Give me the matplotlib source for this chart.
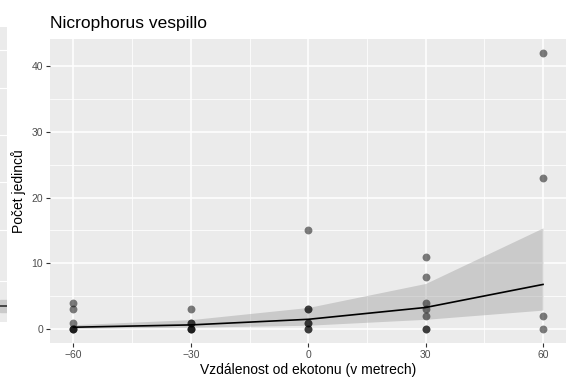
import matplotlib.pyplot as plt
import numpy as np

# counts of beetles per trap, by distance from the ecotone
distance = [-60, -60, -60, -60, -60, -60,
            -30, -30, -30, -30, -30, -30,
            0, 0, 0, 0, 0, 0, 0,
            30, 30, 30, 30, 30, 30, 30,
            60, 60, 60, 60]
count = [4, 3, 1, 0, 0, 0,
         3, 1, 1, 0, 0, 0,
         15, 3, 3, 1, 1, 0, 0,
         11, 8, 4, 3, 2, 0, 0,
         42, 23, 2, 0]

# fitted model with confidence band
fit_x = [-60, -30, 0, 30, 60]
fit_y = [0.3, 0.65, 1.5, 3.3, 6.8]
fit_lo = [0.13, 0.3, 0.6, 1.5, 2.9]
fit_hi = [0.68, 1.45, 3.3, 6.95, 15.4]

x_ticks = [-60, -30, 0, 30, 60]
y_ticks = [0, 10, 20, 30, 40]

# strip of the neighbouring panel on the left
side_grid = [50, 88, 135, 182, 230, 281]
side_line = 306

BG = "#EBEBEB"
plt.rcParams["font.family"] = ["Liberation Sans", "DejaVu Sans"]

fig = plt.figure(figsize=(5.66, 3.8), dpi=100)
ax = fig.add_axes([50 / 566, 37 / 380, 516.5 / 566, 304 / 380])

ax.set_facecolor(BG)
for s in ax.spines.values():
    s.set_visible(False)

ax.set_xlim(-66, 66)
ax.set_ylim(-2.1, 44.1)
ax.set_xticks(x_ticks)
ax.set_yticks(y_ticks)
ax.set_xticks([-45, -15, 15, 45], minor=True)
ax.set_yticks([5, 15, 25, 35], minor=True)
ax.grid(which="major", color="white", linewidth=1.1)
ax.grid(which="minor", color="white", linewidth=0.55)
ax.set_axisbelow(True)
ax.tick_params(which="major", length=3, width=0.8, color="#333333",
               labelcolor="#4D4D4D", labelsize=7.5, pad=2)
ax.tick_params(which="minor", length=0)

ax.fill_between(fit_x, fit_lo, fit_hi, color="#999999", alpha=0.4,
                linewidth=0, zorder=2)
ax.plot(fit_x, fit_y, color="black", linewidth=1.2, zorder=3)
ax.scatter(distance, count, s=32, color="black", alpha=0.5,
           linewidths=0, zorder=4)

ax.set_xlabel("Vzdálenost od ekotonu (v metrech)", fontsize=10, labelpad=2)
ax.set_ylabel("Počet jedinců", fontsize=10, labelpad=4)
ax.set_title("Nicrophorus vespillo", loc="left", fontsize=12.5, pad=8)

side = fig.add_axes([0, 58 / 380, 7 / 566, 295 / 380])
side.set_facecolor(BG)
side.set_xlim(0, 1)
side.set_ylim(322, 27)
side.axis("off")
side.add_patch(plt.Rectangle((0, 27), 1, 295, color=BG, zorder=0))
for g in side_grid:
    side.axhline(g, color="white", linewidth=0.8)
side.axhspan(side_line - 6, side_line + 6, color="#CACACA", zorder=1)
side.axhline(side_line, color="#222222", linewidth=1.1, zorder=2)

fig.savefig("out.png", dpi=100)
